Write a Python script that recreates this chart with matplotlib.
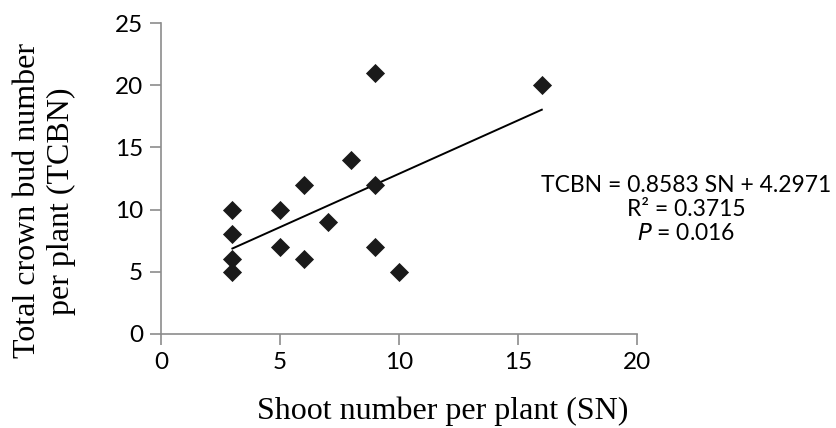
import numpy as np
import matplotlib
matplotlib.use("Agg")
import matplotlib.pyplot as plt

# shoot number (SN) vs total crown bud number (TCBN)
sn = [3, 3, 3, 3, 5, 5, 6, 6, 7, 8, 9, 9, 9, 10, 16]
tcbn = [10, 8, 6, 5, 10, 7, 12, 6, 9, 14, 21, 12, 7, 5, 20]

slope = 0.8583
intercept = 4.2971
x_ticks = [0, 5, 10, 15, 20]
y_ticks = [0, 5, 10, 15, 20, 25]

tick_font = "Lato"
label_font = "Liberation Serif"

fig = plt.figure(figsize=(8.37, 4.28), dpi=100)
ax = fig.add_axes([161/837, 1 - 334/428, (637-161)/837, (334-23)/428])

ax.scatter(sn, tcbn, marker="D", s=95, color="#1a1a1a", zorder=3, linewidths=0)

# linear trend line over the data range
xl = np.array([min(sn), max(sn)])
ax.plot(xl, slope*xl + intercept, color="black", lw=1.4, zorder=2)

ax.set_xlim(0, 20)
ax.set_ylim(0, 25)
ax.set_xticks(x_ticks)
ax.set_yticks(y_ticks)
for s in ["top", "right"]:
    ax.spines[s].set_visible(False)
for s in ["left", "bottom"]:
    ax.spines[s].set_color("#8c8c8c")
    ax.spines[s].set_linewidth(1.2)
ax.tick_params(direction="out", length=8, width=1.2, color="#8c8c8c",
               labelsize=17.5, pad=5)
for lab in ax.get_xticklabels() + ax.get_yticklabels():
    lab.set_fontfamily(tick_font)

ax.set_xlabel("Shoot number per plant (SN)", fontfamily=label_font, fontsize=23)
ax.set_ylabel("Total crown bud number\nper plant (TCBN)", fontfamily=label_font,
              fontsize=23, linespacing=1.2)
# Excel-style title placement (slightly off-centre)
ax.xaxis.set_label_coords(0.592, -0.2)
ax.yaxis.set_label_coords(-0.179, 0.428)

tx = 686/837
fig.text(tx, 1 - 186/428, "TCBN = 0.8583 SN + 4.2971", ha="center", va="center",
         fontfamily=tick_font, fontsize=16.5)
fig.text(tx, 1 - 210/428, "R² = 0.3715", ha="center", va="center",
         fontfamily=tick_font, fontsize=16.5)
fig.text(tx, 1 - 234/428, r"$\it{P}$ = 0.016", ha="center", va="center",
         fontfamily=tick_font, fontsize=16.5)

fig.savefig("out.png", dpi=100)
